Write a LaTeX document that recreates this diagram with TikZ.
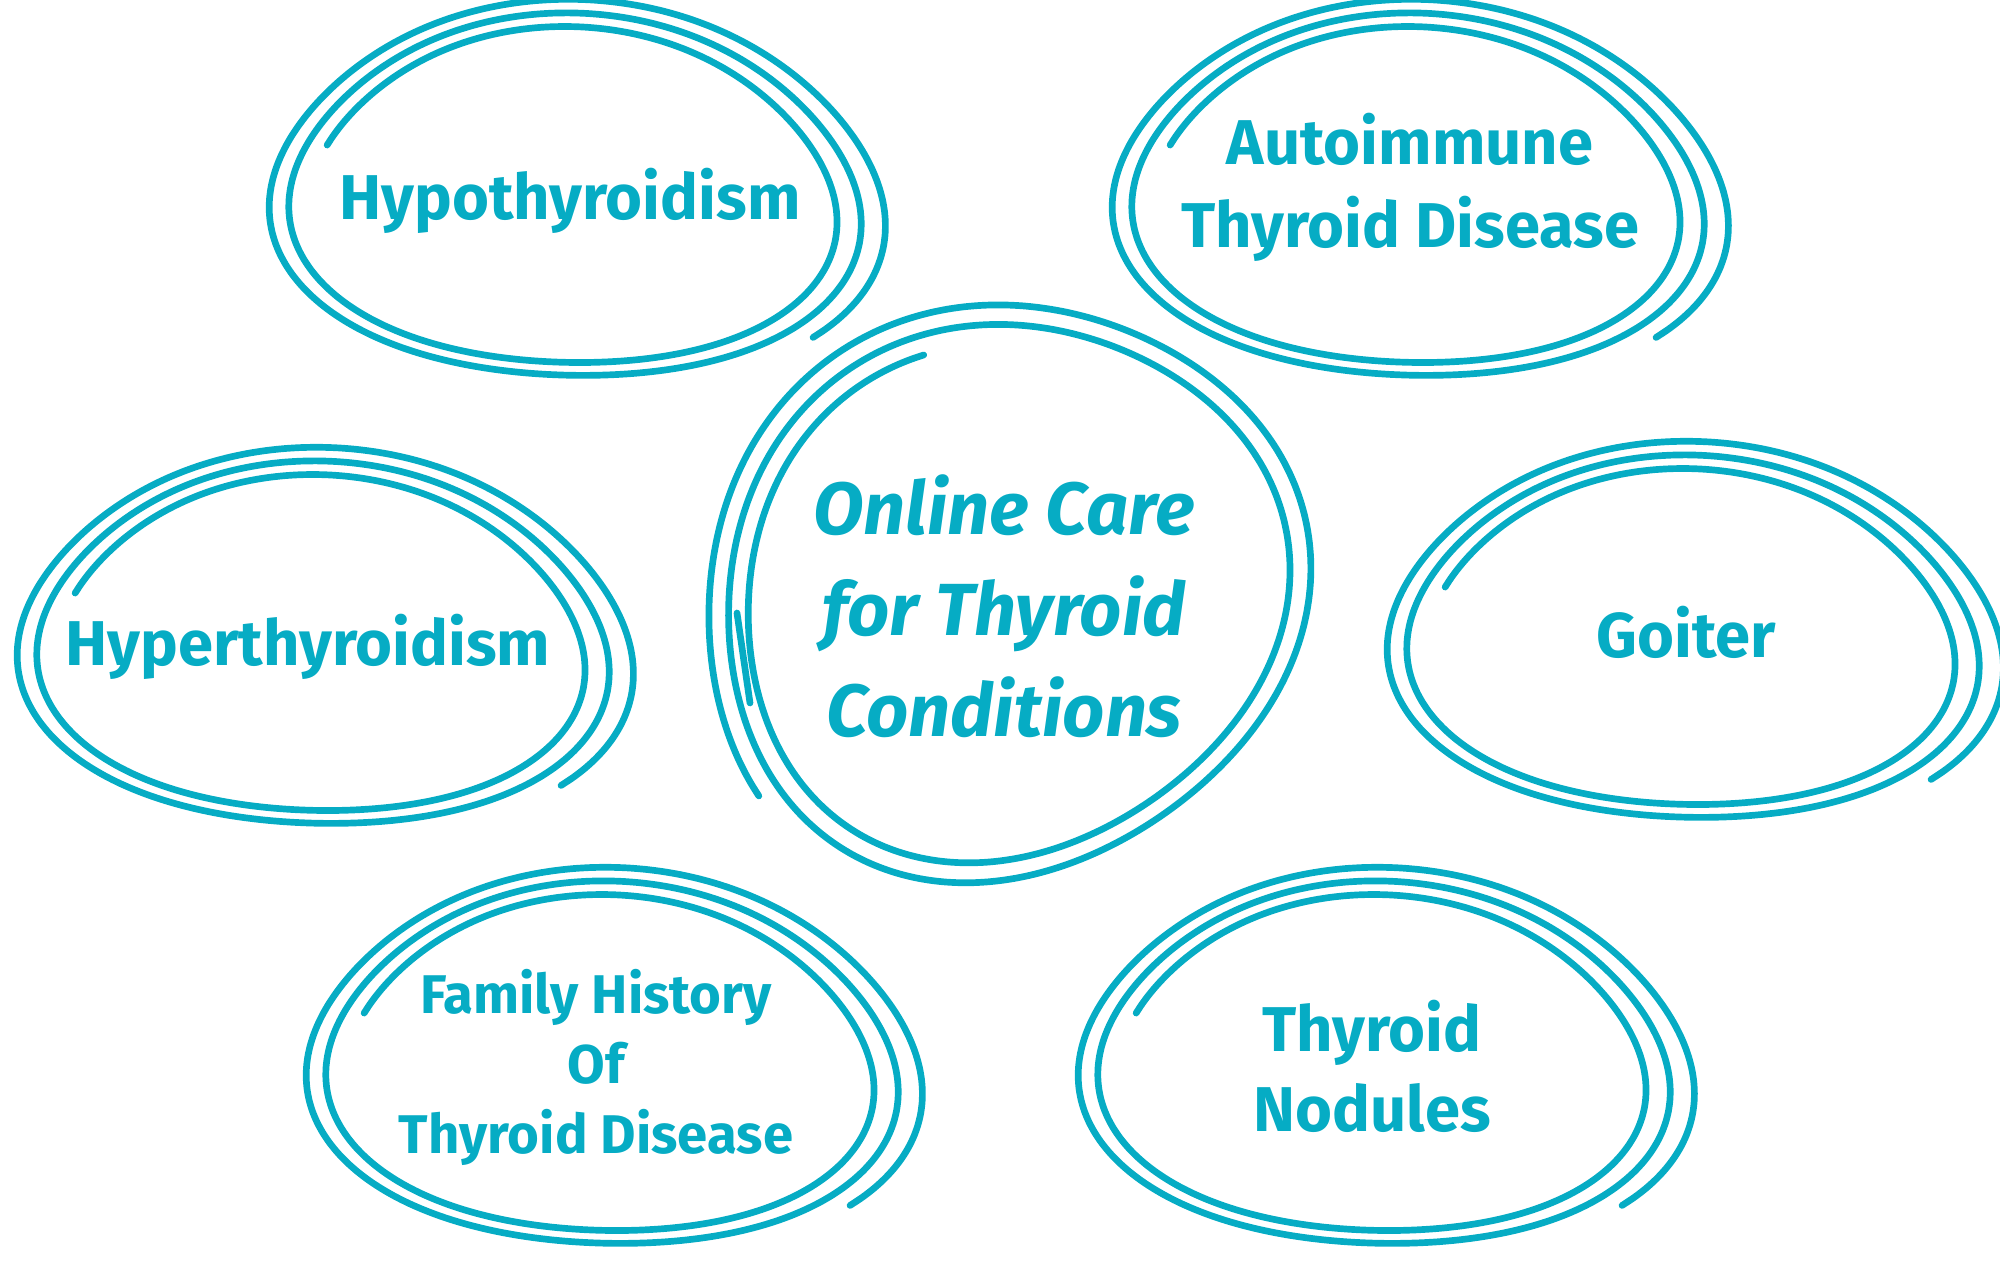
\documentclass[tikz,border=0pt]{standalone}
\usepackage{fontspec}
\setmainfont{Fira Sans}
\definecolor{thyroidblue}{RGB}{6,172,196}
\tikzset{
  scribble/.style={thyroidblue, line width=1.9pt, line cap=round, line join=round},
  label/.style={text=thyroidblue, font=\bfseries, align=center, inner sep=0pt}
}
\begin{document}
\begin{tikzpicture}[x=0.01cm, y=-0.01cm]
\useasboundingbox (0,0) rectangle (2000,1286);

% small bubbles
\foreach \bx/\by/\tx/\ty/\name/\txt/\fs/\ls in {
    567/197/570/201/hypo/{Hypothyroidism}/18/23,
    1410/197/1410/187/auto/{Autoimmune\\Thyroid Disease}/18/23.6,
    315/645/308/647/hyper/{Hyperthyroidism}/18/23,
    1685/639/1686/632/goiter/{Goiter}/18/23,
    604/1065/596/1067/family/{Family History\\Of\\Thyroid Disease}/15.5/19.9,
    1376/1065/1372/1066/nodules/{Thyroid\\Nodules}/18/22.7}
{
    \begin{scope}[shift={(\bx,\by)}, rotate=-2]
    \draw[scribble] plot[domain=0:1, samples=280, smooth]
      ({(258+56*\x)*(1+0.035*sin(3*(196+925*\x)))*cos(196+925*\x) + 6*\x},
       {(162+34*\x)*(1+0.035*sin(3*(196+925*\x)))*sin(196+925*\x)});
    \end{scope}
    \node[label, font=\fontsize{\fs}{\ls}\selectfont\bfseries] (\name) at (\tx,\ty) {\txt};
}

% centre bubble
\begin{scope}[shift={(1006,596)}, rotate=35]
\draw[scribble] plot[domain=0:1, samples=300, smooth]
  ({(268+48*\x)*(1+0.03*sin(3*(285-830*\x)))*cos(285-830*\x)},
   {(248+44*\x)*(1+0.03*sin(3*(285-830*\x)))*sin(285-830*\x)});
\end{scope}
\draw[scribble] (737,613) -- (750,703);
\node[label, font=\fontsize{21}{28.7}\selectfont\bfseries\itshape] (care) at (1004,606)
  {Online Care\\for Thyroid\\Conditions};
\end{tikzpicture}
\end{document}
